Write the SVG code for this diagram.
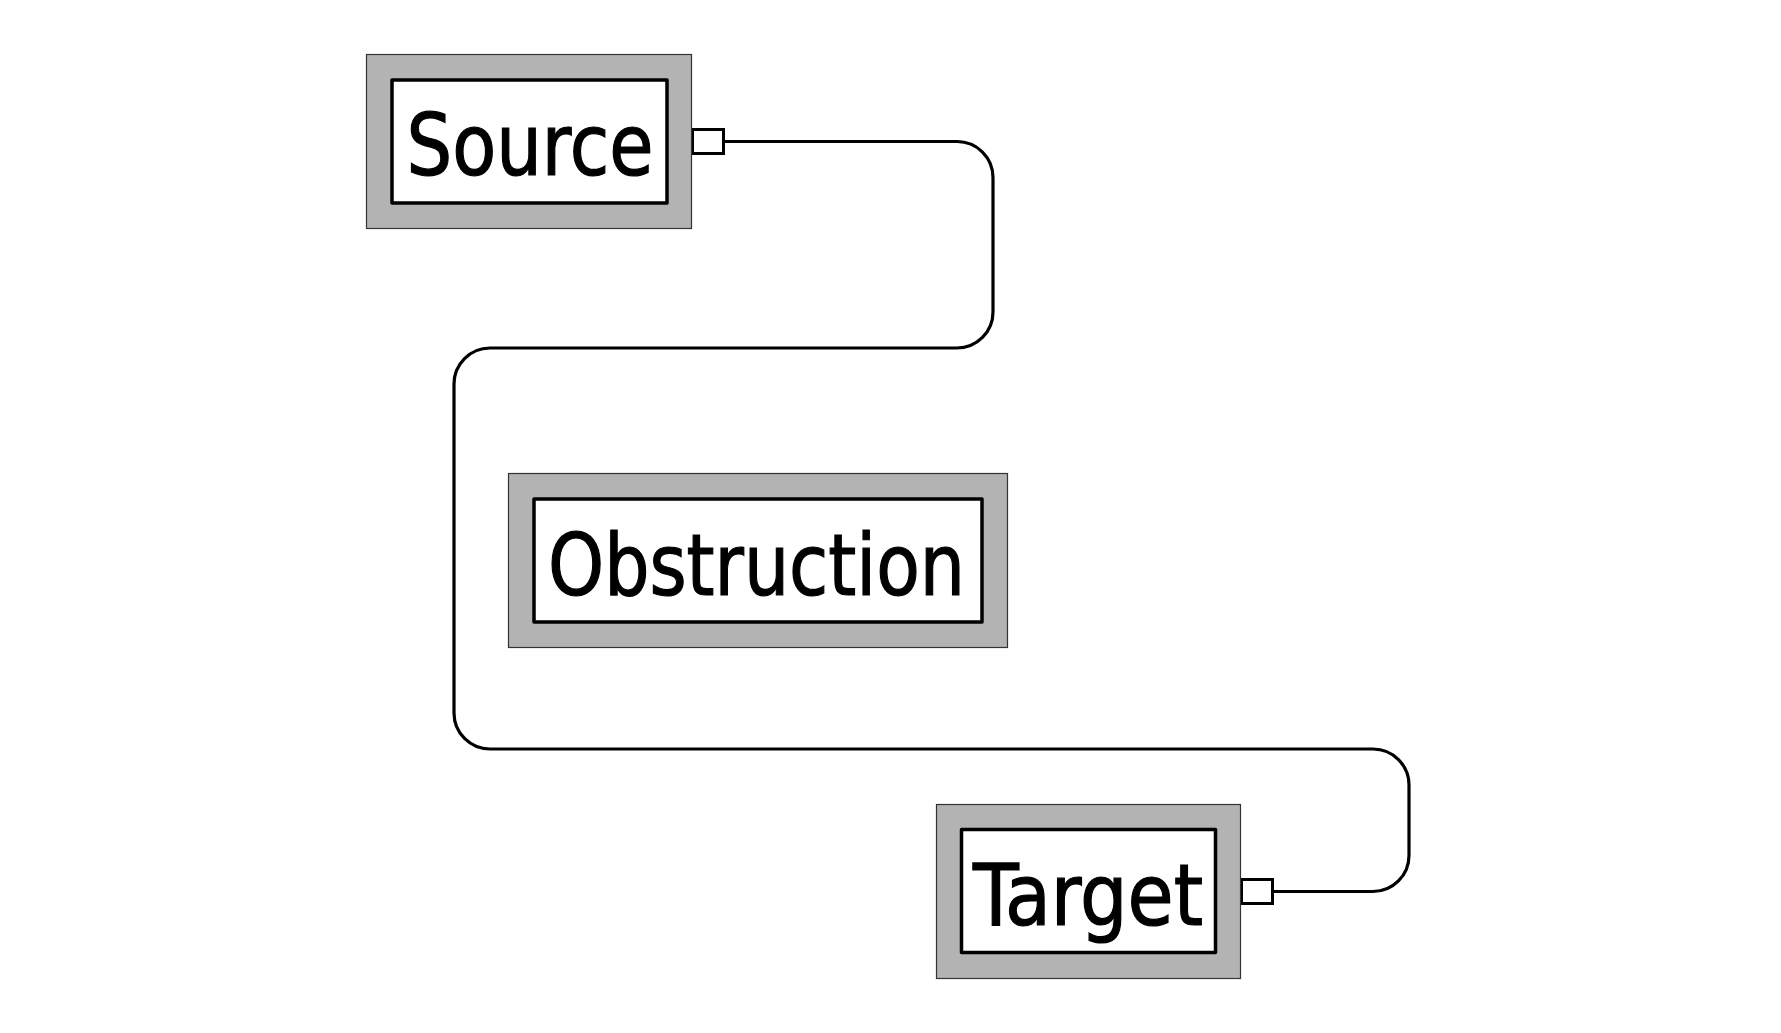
<svg xmlns="http://www.w3.org/2000/svg" width="1781" height="1033" viewBox="0 0 1781 1033">
<style>
.outer{fill:#b3b3b3;stroke:#333;stroke-width:1.2}
.inner{fill:#fff;stroke:#000;stroke-width:3.5;stroke-linejoin:round}
.lbl{font-family:"DejaVu Sans Condensed","DejaVu Sans",sans-serif;font-size:86px;fill:#000;stroke:#000;stroke-width:1.2;text-anchor:middle}
.port{fill:#fff;stroke:#000;stroke-width:3}
.conn{fill:none;stroke:#000;stroke-width:3.2}
</style>
<rect width="1781" height="1033" fill="#fff"/>
<g id="connectors">
<path class="conn" d="M 724 141.5 H 957 A 36 36 0 0 1 993 177.5 V 312 A 36 36 0 0 1 957 348 H 490 A 36 36 0 0 0 454 384 V 713 A 36 36 0 0 0 490 749 H 1373 A 36 36 0 0 1 1409 785 V 855.5 A 36 36 0 0 1 1373 891.5 H 1273"/>
<rect class="port" x="692.5" y="129.5" width="31" height="24"/>
<rect class="port" x="1241.5" y="879.5" width="31" height="24"/>
</g>
<g id="source">
<rect class="outer" x="366.5" y="54.5" width="325" height="174"/>
<rect class="inner" x="392" y="80" width="275" height="123"/>
<text class="lbl" x="530" y="175" textLength="247" lengthAdjust="spacingAndGlyphs">Source</text>
</g>
<g id="obstruction">
<rect class="outer" x="508.5" y="473.5" width="499" height="174"/>
<rect class="inner" x="534" y="499" width="448" height="123"/>
<text class="lbl" x="756.5" y="595" textLength="417" lengthAdjust="spacingAndGlyphs">Obstruction</text>
</g>
<g id="target">
<rect class="outer" x="936.5" y="804.5" width="304" height="174"/>
<rect class="inner" x="961.5" y="829.5" width="254" height="123"/>
<text class="lbl" x="1088" y="925" textLength="230" lengthAdjust="spacingAndGlyphs">Target</text>
</g>
</svg>
